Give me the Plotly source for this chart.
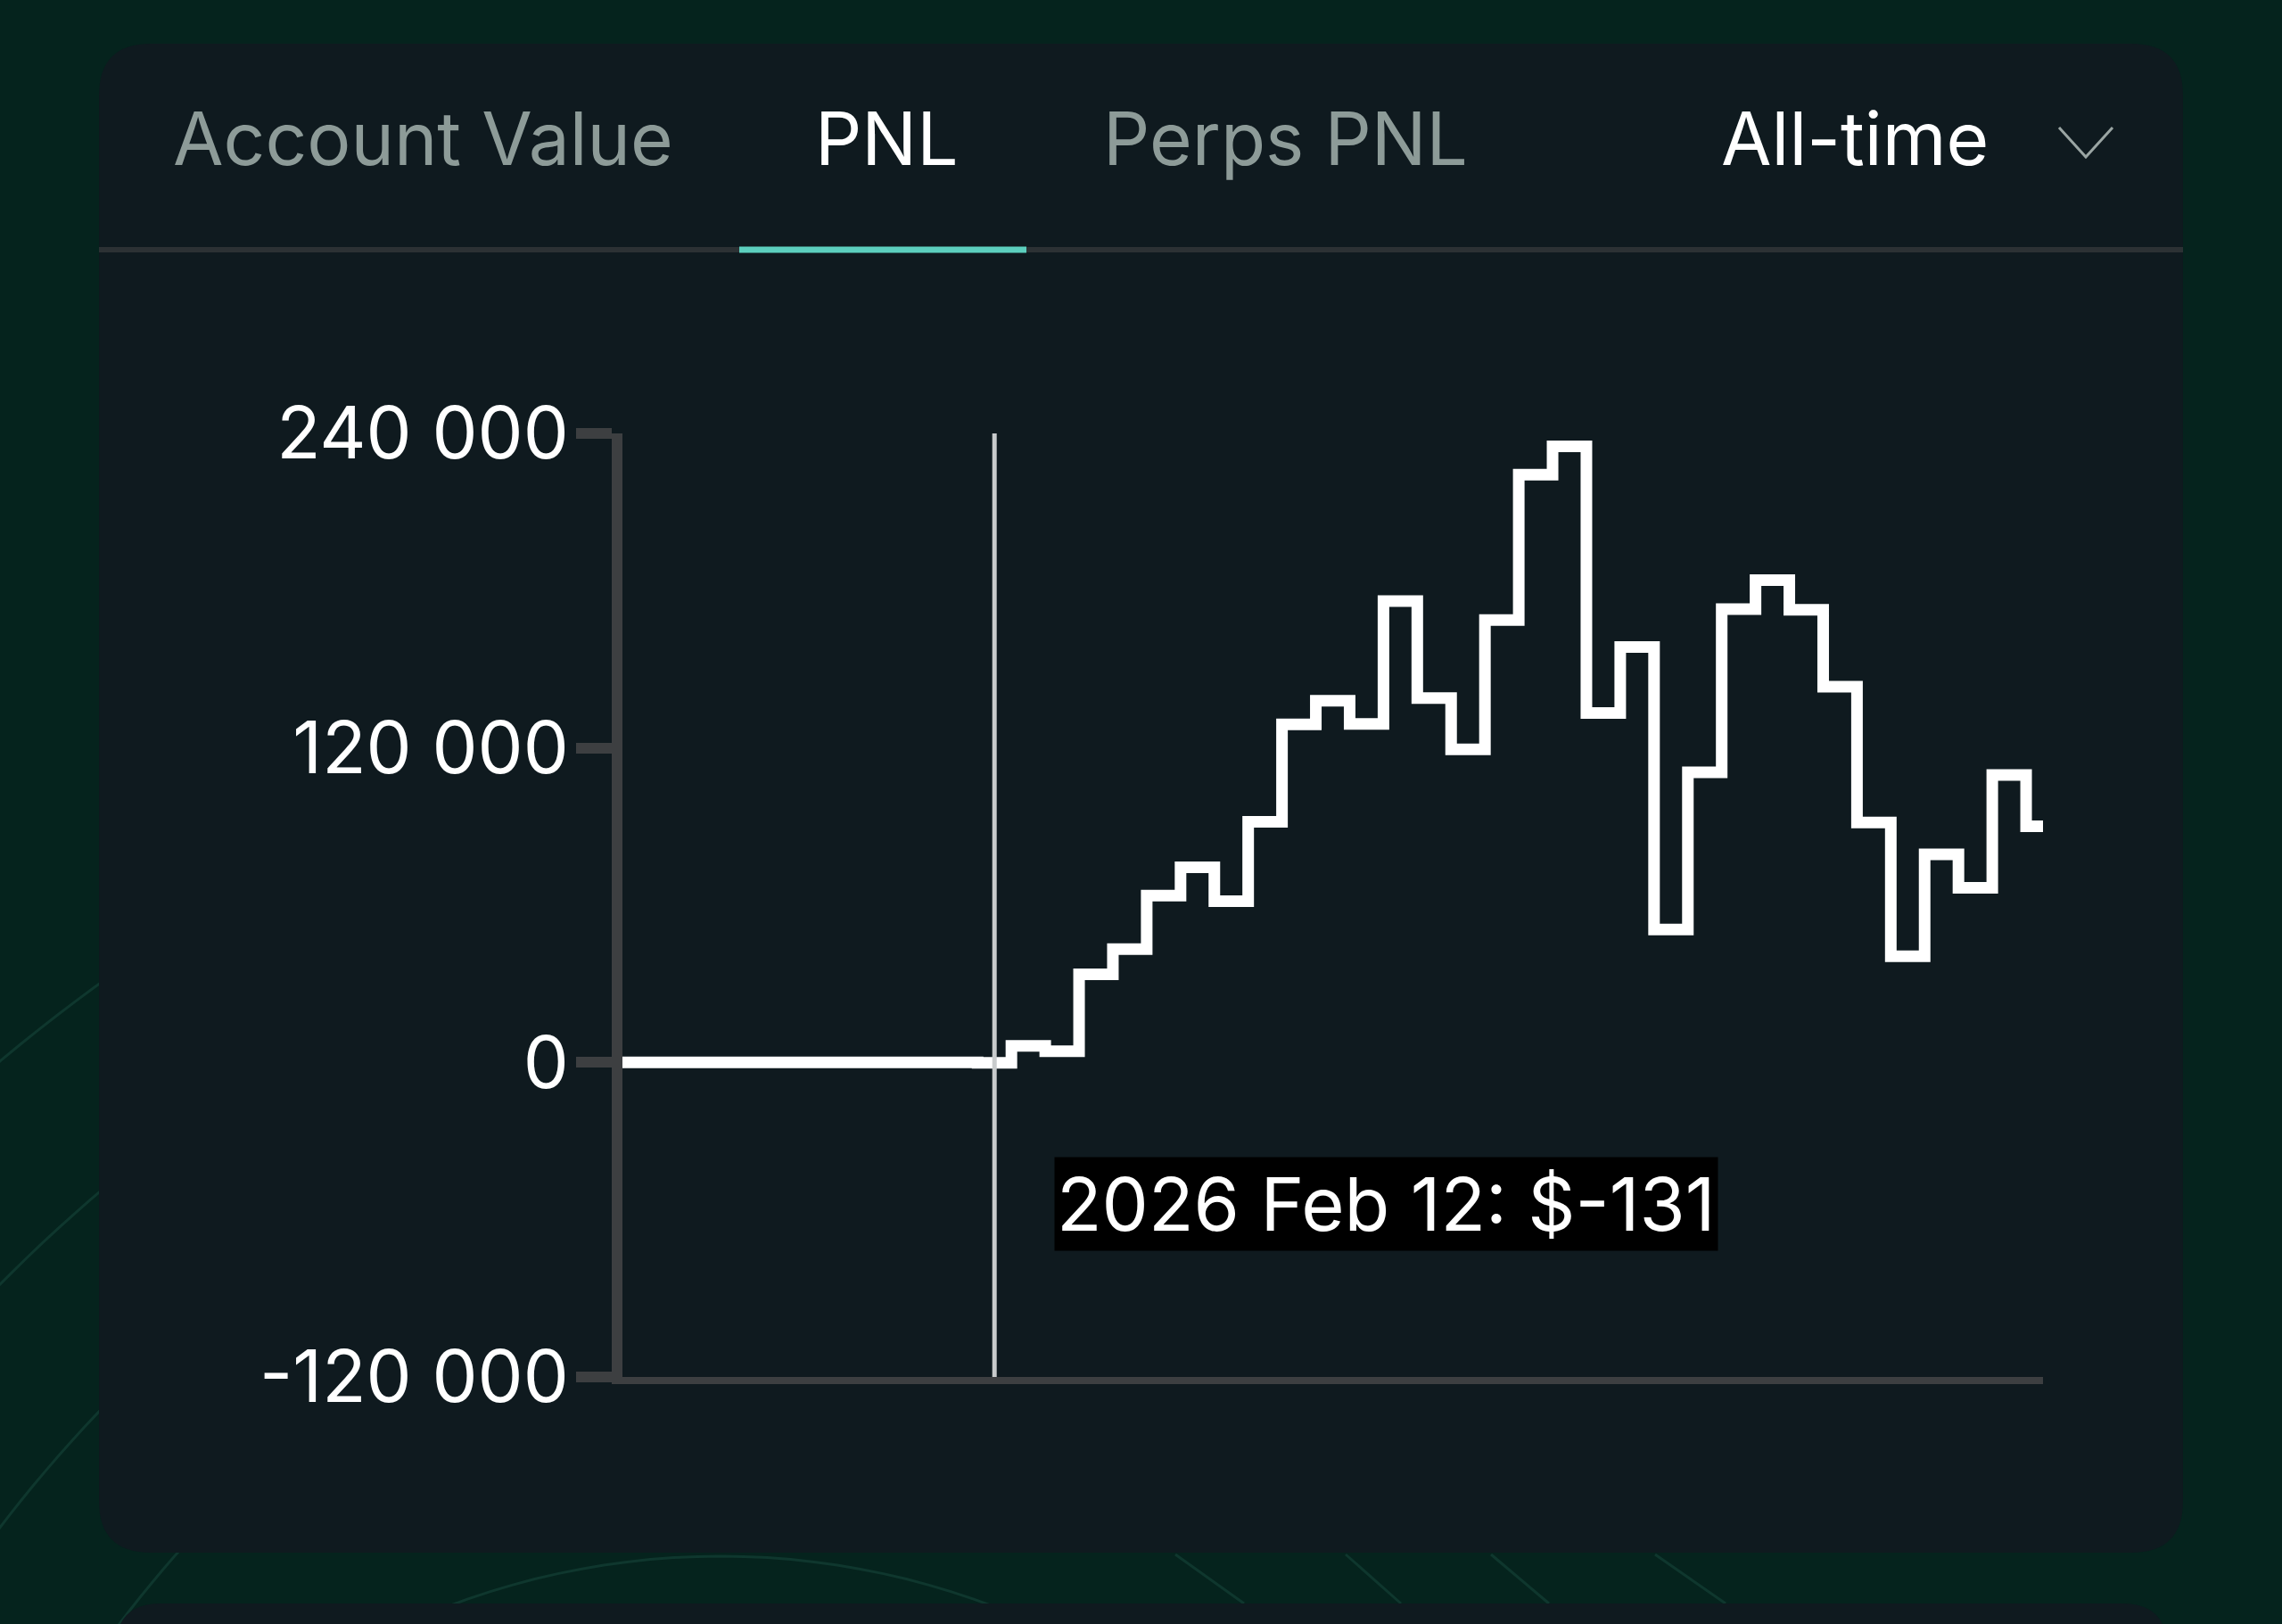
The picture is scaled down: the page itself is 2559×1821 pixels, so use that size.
import math

import pandas as pd
import plotly.graph_objects as go

W, H = 2559, 1821

# daily PNL
dates = pd.date_range("2026-02-01", "2026-03-15", freq="D")
pnl = [
    0, 0, 0, 0, 0, 0, 0, 0, 0, 0, 0,           # Feb 1 - Feb 11
    -131,                                        # Feb 12
    6300, 4300, 33600, 43200, 63700, 74500, 61500, 91800,
    129000, 138000, 129200, 176000, 139000, 119500, 168800, 224300,
    235100, 133300, 158500, 50700, 110700, 173000, 184000, 172700,
    143400, 91600, 40500, 79400, 66600, 109700, 90100,
]

tabs = ["Account Value", "PNL", "Perps PNL"]
active_tab = "PNL"
period = "All-time"

y_ticks = [-120000, 0, 120000, 240000]
y_tick_text = ["-120 000", "0", "120 000", "240 000"]

hover_date = pd.Timestamp("2026-02-12")

BG = "#05231d"
CARD = "#0f1a1f"
AXIS = "#3d3f41"
GRAY_TXT = "#8d9b98"
TEAL = "#5ccfbe"
DECO = "#0f372e"
FONT = "Inter"


def fx(px):
    return px / W


def fy(py):
    return 1 - py / H


def rounded_rect(x0, y0, x1, y1, r):
    pts = [
        ("M", x0 + r, y0), ("L", x1 - r, y0), ("Q", x1, y0, x1, y0 + r),
        ("L", x1, y1 - r), ("Q", x1, y1, x1 - r, y1), ("L", x0 + r, y1),
        ("Q", x0, y1, x0, y1 - r), ("L", x0, y0 + r), ("Q", x0, y0, x0 + r, y0),
    ]
    out = []
    for p in pts:
        cmd, vals = p[0], p[1:]
        coords = []
        for i in range(0, len(vals), 2):
            coords.append(f"{fx(vals[i]):.5f},{fy(vals[i + 1]):.5f}")
        out.append(cmd + " " + " ".join(coords))
    return " ".join(out) + " Z"


def arc_path(cx, cy, r, a0, a1, n=40):
    pts = []
    for i in range(n + 1):
        a = math.radians(a0 + (a1 - a0) * i / n)
        pts.append(f"{fx(cx + r * math.cos(a)):.5f},{fy(cy - r * math.sin(a)):.5f}")
    return "M " + " L ".join(pts)


fig = go.Figure()

fig.add_trace(
    go.Scatter(
        x=dates,
        y=pnl,
        mode="lines",
        line=dict(color="#ffffff", width=13, shape="hvh"),
        hoverinfo="skip",
        showlegend=False,
    )
)

shapes = []

# faint decorative background lines
for r in [1370, 1542, 1721, 1905]:
    shapes.append(dict(type="path", xref="paper", yref="paper", layer="below",
                       path=arc_path(1226, 2648, r, 118, 150),
                       line=dict(color=DECO, width=3)))
shapes.append(dict(type="path", xref="paper", yref="paper", layer="below",
                   path=arc_path(808, 2606, 861, 55, 125),
                   line=dict(color=DECO, width=3)))
for x_top, x_bot in [(1318, 1395), (1509, 1571), (1672, 1737), (1856, 1935)]:
    shapes.append(dict(type="line", xref="paper", yref="paper", layer="below",
                       x0=fx(x_top), y0=fy(1743), x1=fx(x_bot), y1=fy(1798),
                       line=dict(color=DECO, width=3)))

# main card + card below
shapes.append(dict(type="path", xref="paper", yref="paper", layer="below",
                   path=rounded_rect(111, 49, 2448, 1741, 58),
                   fillcolor=CARD, line=dict(width=0)))
shapes.append(dict(type="path", xref="paper", yref="paper", layer="below",
                   path=rounded_rect(130, 1798, 2430, 1900, 50),
                   fillcolor=CARD, line=dict(width=0)))

# tab separator + active underline
shapes.append(dict(type="line", xref="paper", yref="paper", layer="below",
                   x0=fx(111), x1=fx(2448), y0=fy(280), y1=fy(280),
                   line=dict(color="#2c3134", width=6)))
shapes.append(dict(type="line", xref="paper", yref="paper", layer="below",
                   x0=fx(829), x1=fx(1151), y0=fy(280), y1=fy(280),
                   line=dict(color=TEAL, width=7)))

# dropdown chevron
shapes.append(dict(type="path", xref="paper", yref="paper",
                   path=f"M {fx(2309)},{fy(143)} L {fx(2339)},{fy(176)} L {fx(2369)},{fy(143)}",
                   line=dict(color="#9aa5a3", width=3)))

# hover crosshair
shapes.append(dict(type="line", xref="x", yref="y",
                   x0=hover_date, x1=hover_date, y0=y_ticks[0], y1=y_ticks[-1],
                   line=dict(color="#c8cbcc", width=5)))

annotations = []
tab_left = {"Account Value": 192, "PNL": 912, "Perps PNL": 1235}
for t in tabs:
    annotations.append(dict(
        text=t, xref="paper", yref="paper", x=fx(tab_left[t]), y=fy(155),
        xanchor="left", yanchor="middle", showarrow=False,
        font=dict(family=FONT, size=82, color="#ffffff" if t == active_tab else GRAY_TXT),
    ))
annotations.append(dict(
    text=period, xref="paper", yref="paper", x=fx(1928), y=fy(155),
    xanchor="left", yanchor="middle", showarrow=False,
    font=dict(family=FONT, size=82, color="#ffffff"),
))

hover_val = pnl[list(dates).index(hover_date)]
annotations.append(dict(
    text=f"{hover_date:%Y %b %d}: ${hover_val}",
    xref="paper", yref="paper", x=fx(1182), y=fy(1350),
    xanchor="left", yanchor="middle", showarrow=False,
    bgcolor="#000000", borderpad=2,
    font=dict(family=FONT, size=83, color="#ffffff"),
))

fig.update_layout(
    width=W,
    height=H,
    margin=dict(l=0, r=0, t=0, b=0, autoexpand=False),
    paper_bgcolor=BG,
    plot_bgcolor="rgba(0,0,0,0)",
    shapes=shapes,
    annotations=annotations,
    font=dict(family=FONT, color="#ffffff"),
    xaxis=dict(
        domain=[fx(698), fx(2291)],
        range=[dates[0], dates[-1]],
        automargin=False,
        showline=True, linecolor=AXIS, linewidth=8,
        showgrid=False, zeroline=False, showticklabels=False, ticks="",
    ),
    yaxis=dict(
        domain=[fy(1544), fy(486)],
        range=[y_ticks[0], y_ticks[-1]],
        automargin=False,
        tickvals=y_ticks, ticktext=y_tick_text,
        ticks="outside", ticklen=40, tickwidth=12, tickcolor=AXIS,
        ticklabelstandoff=-8,
        showline=True, linecolor=AXIS, linewidth=12,
        showgrid=False, zeroline=False,
        tickfont=dict(family=FONT, size=81, color="#ffffff"),
    ),
)

fig.write_html(
    "out.html",
    config={"displayModeBar": False},
    post_script="document.body.style.margin='0';document.body.style.overflow='hidden';"
    "document.body.style.background='#05231d';",
)
